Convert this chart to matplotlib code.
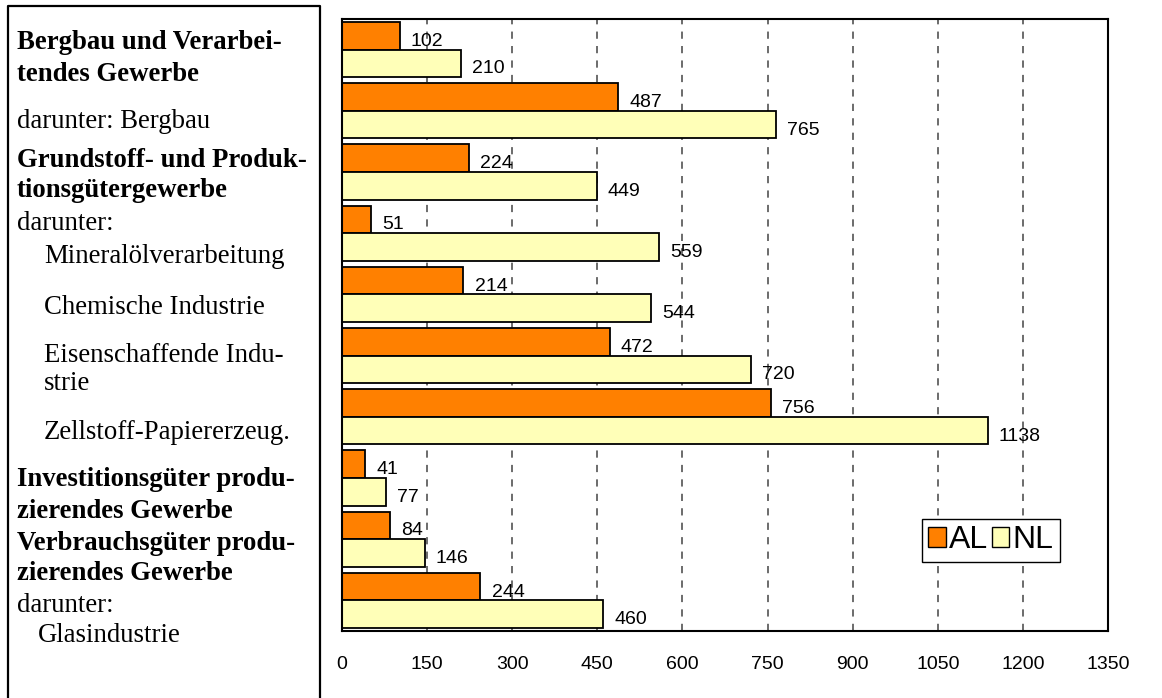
import matplotlib as ml
ml.use("Agg")
import matplotlib.pyplot as plt
from matplotlib.lines import Line2D
from matplotlib.patches import Patch
import numpy as np

################################################################################
# data
################################################################################
al_values = [102, 487, 224, 51, 214, 472, 756, 41, 84, 244]
nl_values = [210, 765, 449, 559, 544, 720, 1138, 77, 146, 460]
series_names = ['AL', 'NL']
x_ticks = [0, 150, 300, 450, 600, 750, 900, 1050, 1200, 1350]

# left panel: (text, bold, indent)
left_lines = [
    ('Bergbau und Verarbei-', True, 0),
    ('tendes Gewerbe', True, 0),
    ('darunter: Bergbau', False, 0),
    ('Grundstoff- und Produk-', True, 0),
    ('tionsgütergewerbe', True, 0),
    ('darunter:', False, 0),
    ('Mineralölverarbeitung', False, 1),
    ('Chemische Industrie', False, 1),
    ('Eisenschaffende Indu-', False, 1),
    ('strie', False, 1),
    ('Zellstoff-Papiererzeug.', False, 1),
    ('Investitionsgüter produ-', True, 0),
    ('zierendes Gewerbe', True, 0),
    ('Verbrauchsgüter produ-', True, 0),
    ('zierendes Gewerbe', True, 0),
    ('darunter:', False, 0),
    ('Glasindustrie', False, 2),
]
left_baselines = [49, 81, 128, 167, 197, 230, 263, 314, 362, 390, 439,
                  486, 518, 550, 580, 612, 642]

COL_AL = '#FF8000'
COL_NL = '#FFFFB8'
W, H = 1162, 698

################################################################################
# figure
################################################################################
fig = plt.figure(figsize=(W / 100, H / 100), dpi=100)
ax = fig.add_axes([342 / W, 1 - 631 / H, (1108 - 342) / W, (631 - 19) / H])

pos = np.arange(len(al_values))
bh = 0.45
b1 = ax.barh(pos - bh / 2, al_values, height=bh, color=COL_AL,
             edgecolor='black', linewidth=1.3, zorder=2)
b2 = ax.barh(pos + bh / 2, nl_values, height=bh, color=COL_NL,
             edgecolor='black', linewidth=1.3, zorder=2)

for bars, vals in ((b1, al_values), (b2, nl_values)):
    for rect, v in zip(bars, vals):
        ax.annotate(str(v), (v, rect.get_y() + rect.get_height() / 2),
                    xytext=(8, -4), textcoords='offset points',
                    ha='left', va='center', fontsize=14,
                    family='Liberation Sans', zorder=3)

ax.set_xlim(0, 1350)
ax.set_ylim(len(al_values) - 0.5, -0.5)
ax.set_xticks(x_ticks)
ax.set_xticklabels([str(t) for t in x_ticks], family='Liberation Sans', fontsize=14)
ax.set_yticks([])
ax.tick_params(axis='x', length=0, pad=18)
for g in x_ticks[1:-1]:
    ax.axvline(g, color='#606060', linewidth=1.3, linestyle=(0, (4, 4)), zorder=1)
for s in ax.spines.values():
    s.set_linewidth(1.5)

leg = ax.legend([Patch(facecolor=COL_AL, edgecolor='black'),
                 Patch(facecolor=COL_NL, edgecolor='black')],
                series_names, ncol=2, loc='upper left',
                bbox_to_anchor=((922 - 342) / (1108 - 342), 1 - (519 - 19) / (631 - 19)),
                prop={'family': 'Liberation Sans', 'size': 23},
                handlelength=0.55, handleheight=0.55, handletextpad=0.1,
                columnspacing=0.1, borderpad=0.2, borderaxespad=0,
                fancybox=False, framealpha=1, edgecolor='black')
leg.get_frame().set_linewidth(1.0)

# left text box
fig.add_artist(Line2D([8 / W, 8 / W, 320 / W, 320 / W], [0, 1 - 6 / H, 1 - 6 / H, 0],
                      color='black', linewidth=1.6, transform=fig.transFigure))
indents = {0: 17, 1: 44, 2: 38}
for (txt, bold, ind), yb in zip(left_lines, left_baselines):
    fig.text(indents[ind] / W, 1 - yb / H, txt, family='Liberation Serif',
             fontsize=19.3, fontweight='bold' if bold else 'normal',
             ha='left', va='baseline')

plt.savefig('out.png', dpi=100)
